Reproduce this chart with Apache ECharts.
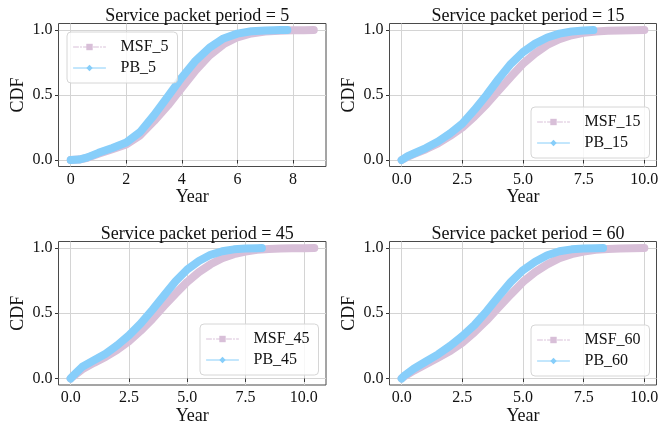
<!DOCTYPE html>
<html>
<head>
<meta charset="utf-8">
<script src="https://cdn.jsdelivr.net/npm/echarts@6/dist/echarts.min.js"></script>
<style>
  html, body { margin: 0; padding: 0; background: #fff; }
  #main { width: 670px; height: 423px; }
</style>
</head>
<body>
<div id="main"></div>
<script>
// service packet periods, one panel each
var periods = [5, 15, 45, 60];

// period = 5
var msfYears5 = [0, 0.3, 0.6, 1.0, 1.5, 2.0, 2.5, 3.0, 3.5, 4.0, 4.5, 5.0, 5.5, 6.0, 6.5, 7.0, 7.5, 8.0, 8.4, 8.75];
var msfCdf5   = [0, 0.003, 0.017, 0.048, 0.083, 0.12, 0.19, 0.3, 0.42, 0.555, 0.69, 0.805, 0.89, 0.944, 0.973, 0.988, 0.995, 0.998, 0.999, 1.0];
var pbYears5  = [0, 0.3, 0.6, 1.0, 1.5, 2.0, 2.5, 3.0, 3.5, 4.0, 4.5, 5.0, 5.5, 6.0, 6.5, 7.0, 7.3, 7.55, 7.8];
var pbCdf5    = [0, 0.003, 0.02, 0.055, 0.093, 0.135, 0.215, 0.345, 0.49, 0.635, 0.765, 0.865, 0.935, 0.972, 0.99, 0.997, 0.999, 1.0, 1.0];

// period = 15
var msfYears15 = [0, 0.25, 0.5, 1.0, 1.5, 2.0, 2.5, 3.0, 3.5, 4.0, 4.5, 5.0, 5.5, 6.0, 6.5, 7.0, 7.5, 8.0, 8.5, 9.0, 9.5, 10.0];
var msfCdf15   = [0, 0.025, 0.045, 0.083, 0.128, 0.185, 0.25, 0.335, 0.43, 0.535, 0.64, 0.74, 0.82, 0.885, 0.93, 0.96, 0.978, 0.989, 0.994, 0.997, 0.999, 1.0];
var pbYears15  = [0, 0.25, 0.5, 1.0, 1.5, 2.0, 2.5, 3.0, 3.5, 4.0, 4.5, 5.0, 5.5, 6.0, 6.5, 7.0, 7.5, 7.9];
var pbCdf15    = [0, 0.03, 0.05, 0.092, 0.142, 0.205, 0.28, 0.385, 0.5, 0.625, 0.74, 0.83, 0.895, 0.942, 0.972, 0.988, 0.996, 1.0];

// period = 45
var msfYears45 = [0, 0.1, 0.5, 1.0, 1.5, 2.0, 2.5, 3.0, 3.5, 4.0, 4.5, 5.0, 5.5, 6.0, 6.5, 7.0, 7.5, 8.0, 8.5, 9.0, 9.5, 10.0, 10.45];
var msfCdf45   = [0, 0.015, 0.07, 0.12, 0.165, 0.22, 0.285, 0.365, 0.455, 0.555, 0.65, 0.74, 0.815, 0.875, 0.922, 0.953, 0.973, 0.986, 0.992, 0.996, 0.998, 0.999, 1.0];
var pbYears45  = [0, 0.1, 0.5, 1.0, 1.5, 2.0, 2.5, 3.0, 3.5, 4.0, 4.5, 5.0, 5.5, 6.0, 6.5, 7.0, 7.5, 8.0, 8.2];
var pbCdf45    = [0, 0.02, 0.09, 0.14, 0.19, 0.255, 0.33, 0.42, 0.525, 0.635, 0.745, 0.835, 0.9, 0.948, 0.975, 0.99, 0.996, 0.999, 1.0];

// period = 60
var msfYears60 = [0, 0.1, 0.5, 1.0, 1.5, 2.0, 2.5, 3.0, 3.5, 4.0, 4.5, 5.0, 5.5, 6.0, 6.5, 7.0, 7.5, 8.0, 8.5, 9.0, 9.5, 10.0];
var msfCdf60   = [0, 0.015, 0.06, 0.11, 0.16, 0.21, 0.275, 0.355, 0.445, 0.545, 0.645, 0.74, 0.815, 0.875, 0.922, 0.953, 0.973, 0.986, 0.993, 0.997, 0.999, 1.0];
var pbYears60  = [0, 0.1, 0.5, 1.0, 1.5, 2.0, 2.5, 3.0, 3.5, 4.0, 4.5, 5.0, 5.5, 6.0, 6.5, 7.0, 7.5, 8.0, 8.3];
var pbCdf60    = [0, 0.02, 0.075, 0.13, 0.185, 0.25, 0.325, 0.41, 0.515, 0.63, 0.74, 0.83, 0.895, 0.945, 0.975, 0.99, 0.996, 0.999, 1.0];

var yTicks = [0, 0.5, 1.0];
var xTicksP5 = [0, 2, 4, 6, 8];
var xTicksOther = [0, 2.5, 5, 7.5, 10];

var msfYears = [msfYears5, msfYears15, msfYears45, msfYears60];
var msfCdf   = [msfCdf5, msfCdf15, msfCdf45, msfCdf60];
var pbYears  = [pbYears5, pbYears15, pbYears45, pbYears60];
var pbCdf    = [pbCdf5, pbCdf15, pbCdf45, pbCdf60];
var xTicks   = [xTicksP5, xTicksOther, xTicksOther, xTicksOther];

var FONT = 'Liberation Serif';
var MSF_COLOR = '#d8bfd8';
var PB_COLOR = '#87cefa';
var GRID_COLOR = '#d4d4d4';
var FRAME_COLOR = '#4a4a4a';

// frame box [left, top, width, height], x range of the frame, legend corner
var panels = [
  { frame: [58.5, 23.5, 267.5, 143], xRange: [-0.44, 9.19], legend: [67, 32] },
  { frame: [389.5, 23.5, 267, 143], xRange: [-0.5, 10.5], legend: [531, 107] },
  { frame: [58.5, 241.5, 267.5, 143.5], xRange: [-0.52, 10.95], legend: [200, 324] },
  { frame: [389.5, 241.5, 267, 143.5], xRange: [-0.5, 10.5], legend: [531, 325] }
];

function zip(xs, ys) {
  return xs.map(function (x, i) { return [x, ys[i]]; });
}

var grid = [], xAxis = [], yAxis = [], series = [], title = [], legend = [];

panels.forEach(function (p, k) {
  var f = p.frame;
  var lo = p.xRange[0], hi = p.xRange[1];
  var pxPerUnit = f[2] / (hi - lo);
  var x0 = f[0] + (0 - lo) * pxPerUnit;
  var yTop = f[1] + f[3] * 0.05 / 1.1;
  var yH = f[3] / 1.1;
  var gA = grid.length, gB = gA + 1, gC = gA + 2;
  var ticks = xTicks[k];
  var step = ticks[1] - ticks[0];

  // grid A: from x = 0 to the right edge of the frame; x ticks/labels + data
  grid.push({ left: x0, top: f[1], width: f[0] + f[2] - x0, height: f[3], outerBoundsMode: 'none' });
  // grid B: y ticks/labels
  grid.push({ left: f[0], top: yTop, width: f[2], height: yH, outerBoundsMode: 'none' });
  // grid C: the frame and axis names
  grid.push({ left: f[0], top: f[1], width: f[2], height: f[3], show: true,
    borderColor: FRAME_COLOR, borderWidth: 1, backgroundColor: 'rgba(0,0,0,0)', outerBoundsMode: 'none' });

  xAxis.push({
    gridIndex: gA, type: 'value', min: 0, max: hi, interval: step,
    axisLine: { show: false },
    axisTick: { show: true, length: 3.5, customValues: ticks, lineStyle: { color: '#333' } },
    axisLabel: { margin: 5, color: '#111', fontFamily: FONT, fontSize: 16, showMaxLabel: false,
      formatter: function (v) { return step % 1 === 0 ? String(v) : v.toFixed(1); } },
    splitLine: { show: true, lineStyle: { color: GRID_COLOR, width: 1 } }
  });
  yAxis.push({ gridIndex: gA, type: 'value', min: -0.05, max: 1.05, show: false });

  xAxis.push({ gridIndex: gB, type: 'value', min: 0, max: 1, show: false });
  yAxis.push({
    gridIndex: gB, type: 'value', min: yTicks[0], max: yTicks[yTicks.length - 1], interval: 0.5,
    axisLine: { show: false },
    axisTick: { show: true, length: 3.5, lineStyle: { color: '#333' } },
    axisLabel: { margin: 6, color: '#111', fontFamily: FONT, fontSize: 16,
      formatter: function (v) { return v.toFixed(1); } },
    splitLine: { show: true, lineStyle: { color: GRID_COLOR, width: 1 } }
  });

  xAxis.push({
    gridIndex: gC, type: 'value', min: 0, max: 1,
    axisLine: { show: false }, axisTick: { show: false }, axisLabel: { show: false }, splitLine: { show: false },
    name: 'Year', nameLocation: 'middle', nameGap: 22,
    nameTextStyle: { fontFamily: FONT, fontSize: 18, color: '#111' }
  });
  yAxis.push({
    gridIndex: gC, type: 'value', min: 0, max: 1,
    axisLine: { show: false }, axisTick: { show: false }, axisLabel: { show: false }, splitLine: { show: false },
    name: 'CDF', nameLocation: 'middle', nameGap: 31,
    nameTextStyle: { fontFamily: FONT, fontSize: 18, color: '#111' }
  });

  var per = periods[k];
  title.push({
    text: 'Service packet period = ' + per,
    left: f[0] + f[2] / 2, top: f[1] - 21, textAlign: 'center',
    textStyle: { fontFamily: FONT, fontSize: 18, fontWeight: 'normal', color: '#111' }
  });

  series.push({
    name: 'MSF_' + per, type: 'line', xAxisIndex: gA, yAxisIndex: gA,
    data: zip(msfYears[k], msfCdf[k]),
    symbol: 'rect', symbolSize: 0, showSymbol: false, smooth: false, clip: false,
    color: MSF_COLOR, lineStyle: { width: 8, color: MSF_COLOR, cap: 'round', join: 'round' },
    emphasis: { disabled: true }, silent: true, z: 2
  });
  series.push({
    name: 'PB_' + per, type: 'line', xAxisIndex: gA, yAxisIndex: gA,
    data: zip(pbYears[k], pbCdf[k]),
    symbol: 'diamond', symbolSize: 0, showSymbol: false, smooth: false, clip: false,
    color: PB_COLOR, lineStyle: { width: 8, color: PB_COLOR, cap: 'round', join: 'round' },
    emphasis: { disabled: true }, silent: true, z: 3
  });

  legend.push({
    orient: 'vertical', left: p.legend[0], top: p.legend[1],
    itemWidth: 32, itemHeight: 8, itemGap: 5,
    padding: [7, 9, 7, 6],
    backgroundColor: 'rgba(255,255,255,0.8)', borderColor: '#d6d6d6', borderWidth: 1, borderRadius: 4,
    textStyle: { fontFamily: FONT, fontSize: 16, color: '#111', padding: [0, 0, 0, 10] },
    selectedMode: false,
    data: [
      { name: 'MSF_' + per, lineStyle: { width: 1, type: [5, 2, 1, 2], color: MSF_COLOR }, itemStyle: { color: MSF_COLOR } },
      { name: 'PB_' + per, lineStyle: { width: 1, type: 'solid', color: PB_COLOR }, itemStyle: { color: PB_COLOR } }
    ]
  });
});

var myChart = echarts.init(document.getElementById('main'));
myChart.setOption({
  animation: false,
  backgroundColor: '#fff',
  title: title,
  legend: legend,
  grid: grid,
  xAxis: xAxis,
  yAxis: yAxis,
  series: series
});
</script>
</body>
</html>
